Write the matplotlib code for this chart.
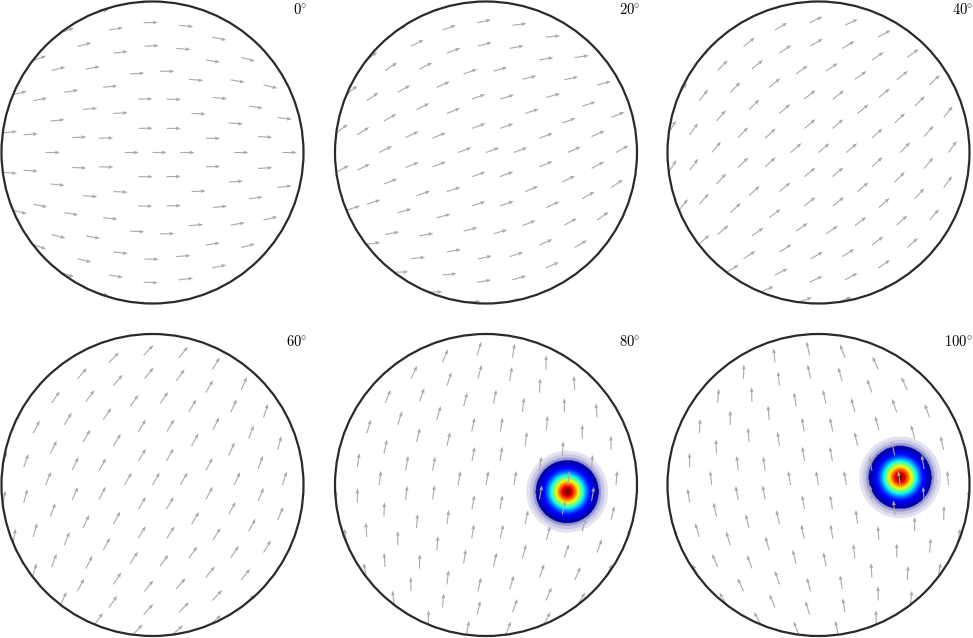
import numpy as np
import matplotlib
matplotlib.use("Agg")
import matplotlib.pyplot as plt
from matplotlib.patches import Circle

plt.rcParams["mathtext.fontset"] = "cm"

# ---------------- data ----------------
panel_angles = [0, 20, 40, 60, 80, 100]          # rotation of the vector field (deg)
panel_labels = [r"$0\!^\circ$", r"$20\!^\circ$", r"$40\!^\circ$",
                r"$60\!^\circ$", r"$80\!^\circ$", r"$100\!^\circ$"]
grid_polar_step = 15.0                           # deg between rings of the S2 grid
field_bend = 40.0                                # deg, bending of the field lines
arrow_length = 0.094                             # in projected (unit disc) units
blob_panels = [80, 100]
blob_polar = [45.0, 45.0]                        # deg
blob_azimuth = [-4.7, 5.4]                       # deg
blob_width = [0.077, 0.077]                      # gaussian sigma in projected units

# ---------------- helpers ----------------
S45 = np.sin(np.pi / 4)


def project(theta, phi):
    """Equal-area (Schmidt) projection of the upper hemisphere onto the unit disc."""
    rho = np.sin(theta / 2) / S45
    return rho * np.cos(phi), rho * np.sin(phi)


def s2_grid(step_deg):
    step = np.radians(step_deg)
    th_all, ph_all = [], []
    for k, th in enumerate(np.arange(0, 90.0 + 1e-9, step_deg)):
        t = np.radians(th)
        if k == 0:
            n = 1
            off = 0.0
        else:
            n = int(round(2 * np.pi * np.sin(t) / step))
            off = 0.0 if k % 2 == 1 else np.pi / n
        ph = off + 2 * np.pi * np.arange(n) / n
        th_all.extend([t] * n)
        ph_all.extend(ph)
    return np.array(th_all), np.array(ph_all)


gth, gph = s2_grid(grid_polar_step)
GX, GY = project(gth, gph)

# ---------------- figure ----------------
W, H = 973, 638
fig = plt.figure(figsize=(W / 100, H / 100), dpi=100)
R = 151.0
hpx = 157.0
centers = [(152.5, 152.5), (486.0, 152.5), (818.5, 152.5),
           (152.5, 485.0), (486.0, 485.0), (818.5, 485.0)]

jet = plt.get_cmap("jet")

for i, ang in enumerate(panel_angles):
    cx, cy = centers[i]
    ax = fig.add_axes([(cx - hpx) / W, (H - cy - hpx) / H, 2 * hpx / W, 2 * hpx / H])
    lim = hpx / R
    ax.set_xlim(-lim, lim)
    ax.set_ylim(-lim, lim)
    ax.set_aspect("equal")
    ax.axis("off")

    clip = Circle((0, 0), 1.0, transform=ax.transData)

    # density blob
    if ang in blob_panels:
        j = blob_panels.index(ang)
        n = 500
        xs = np.linspace(-1, 1, n)
        XX, YY = np.meshgrid(xs, xs)
        inside = XX ** 2 + YY ** 2 <= 1
        bx, by = project(np.radians(blob_polar[j]), np.radians(blob_azimuth[j]))
        d2 = (XX - bx) ** 2 + (YY - by) ** 2
        f = np.exp(-d2 / (2 * blob_width[j] ** 2))
        rgba = jet(f)
        alpha = np.zeros_like(f)
        alpha[f > 0.002] = 0.12
        alpha[f > 0.0055] = 0.22
        alpha[f > 0.013] = 0.40
        alpha[f > 0.025] = 1.0
        alpha[~inside] = 0
        rgba[..., 3] = alpha
        im = ax.imshow(rgba, extent=(-1, 1, -1, 1), origin="lower",
                       interpolation="bilinear", zorder=2)
        im.set_clip_path(clip)

    # vector field
    a = np.radians(ang)
    xr = GX * np.cos(a) + GY * np.sin(a)
    yr = -GX * np.sin(a) + GY * np.cos(a)
    d = a + np.radians(-field_bend * xr * yr)
    U = arrow_length * np.cos(d)
    V = arrow_length * np.sin(d)
    q = ax.quiver(GX, GY, U, V, angles="xy", scale_units="xy", scale=1,
                  pivot="tail", color="#a9a9a9", units="dots", width=1.1,
                  headwidth=3.5, headlength=4.5, headaxislength=4.0, zorder=3)
    q.set_clip_path(clip)

    ax.add_patch(Circle((0, 0), 1.0, fill=False, ec="#2a2a2a", lw=1.6, zorder=5))

    ax.text(154.5 / R, 143.5 / R, panel_labels[i], ha="right", va="center",
            fontsize=10.5, color="black", zorder=6)

fig.savefig("out.png", dpi=100)
